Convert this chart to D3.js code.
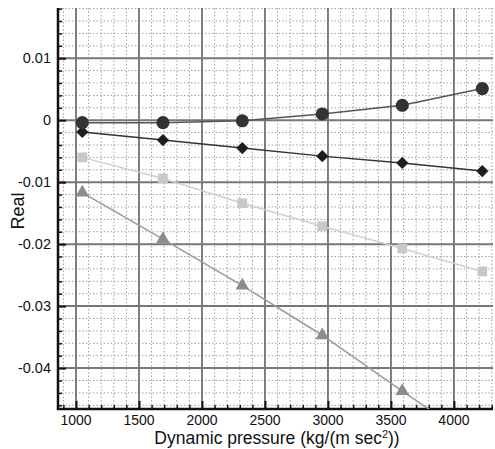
<!DOCTYPE html>
<html><head><meta charset="utf-8">
<script src="https://cdn.jsdelivr.net/npm/d3@7"></script>
<style>body{margin:0;background:#fff}svg{display:block}text{font-family:"Liberation Sans",Arial,sans-serif;fill:#111}</style>
</head><body><svg id="c" width="495" height="449"></svg>
<script>
const pressure = [1050, 1690, 2320, 2955, 3590, 4225];
const circles  = [-0.0004, -0.0004, -0.0001, 0.0010, 0.0024, 0.0051];
const diamonds = [-0.0019, -0.0032, -0.0045, -0.0058, -0.0069, -0.0082];
const squares  = [-0.0060, -0.0094, -0.0134, -0.0171, -0.0207, -0.0244];
const triangles= [-0.0117, -0.0192, -0.0267, -0.0347, -0.0437, -0.0525];
const xTicks = [1000, 1500, 2000, 2500, 3000, 3500, 4000];
const yTicks = [0.01, 0, -0.01, -0.02, -0.03, -0.04];

const svg = d3.select("#c");
const L = 58, R = 493, T = 8, B = 409;
const x = d3.scaleLinear().domain([857, 4310]).range([L, R]);
const y = d3.scaleLinear().domain([-0.0466, 0.0181]).range([B, T]);

svg.append("defs").append("clipPath").attr("id","clip").append("rect").attr("x",L).attr("y",T).attr("width",R-L).attr("height",B-T);

const g = svg.append("g");
const xMinor = d3.range(900, 4301, 100).filter(v => v % 500 !== 0);
const yMinor = d3.range(-46, 19, 2).map(v => v/1000).filter(v => Math.abs(Math.round(v*1000)) % 10 !== 0);
g.selectAll(".vx").data(xMinor).join("line")
  .attr("x1", d=>x(d)).attr("x2", d=>x(d)).attr("y1", T).attr("y2", B)
  .attr("stroke", "#a0a0a0").attr("stroke-width", 1).attr("stroke-dasharray", "1.5,2");
g.selectAll(".hy").data(yMinor).join("line")
  .attr("x1", L).attr("x2", R).attr("y1", d=>y(d)).attr("y2", d=>y(d))
  .attr("stroke", "#a0a0a0").attr("stroke-width", 1).attr("stroke-dasharray", "1.5,2");
g.selectAll(".vX").data(xTicks).join("line")
  .attr("x1", d=>x(d)).attr("x2", d=>x(d)).attr("y1", T).attr("y2", B)
  .attr("stroke", "#555").attr("stroke-width", 1.5);
g.selectAll(".hY").data(yTicks).join("line")
  .attr("x1", L).attr("x2", R).attr("y1", d=>y(d)).attr("y2", d=>y(d))
  .attr("stroke", "#777").attr("stroke-width", 2);

const styleAx = (w)=>a=>{a.select(".domain").remove();a.selectAll("line").attr("stroke","#111").attr("stroke-width",w);};
svg.append("g").attr("transform",`translate(0,${B})`).call(d3.axisTop(x).tickValues(xMinor).tickSize(4).tickFormat("")).call(styleAx(1.5));
svg.append("g").attr("transform",`translate(0,${B})`).call(d3.axisTop(x).tickValues(xTicks).tickSize(8).tickFormat("")).call(styleAx(2));
svg.append("g").attr("transform",`translate(${L},0)`).call(d3.axisRight(y).tickValues(yMinor).tickSize(4).tickFormat("")).call(styleAx(1.5));
svg.append("g").attr("transform",`translate(${L},0)`).call(d3.axisRight(y).tickValues(yTicks).tickSize(8).tickFormat("")).call(styleAx(2));
svg.append("line").attr("x1",L).attr("x2",L).attr("y1",T).attr("y2",B+1).attr("stroke","#111").attr("stroke-width",2.5);
svg.append("line").attr("x1",L-1).attr("x2",R).attr("y1",B).attr("y2",B).attr("stroke","#111").attr("stroke-width",2.5);

svg.selectAll(".xl").data(xTicks).join("text")
  .attr("x", d=>x(d)).attr("y", B+16).attr("text-anchor","middle").attr("font-size",14).text(d=>d);
svg.selectAll(".yl").data(yTicks).join("text")
  .attr("x", L-7).attr("y", d=>y(d)+5).attr("text-anchor","end").attr("font-size",14.5).text(d=>String(d));
svg.append("text").attr("transform",`translate(24,211) rotate(-90)`).attr("text-anchor","middle").attr("font-size",18).text("Real");
const xt = svg.append("text").attr("x", 277).attr("y", 444).attr("text-anchor","middle").attr("font-size",17.5);
xt.append("tspan").text("Dynamic pressure (kg/(m sec");
xt.append("tspan").attr("font-size",11).attr("dy",-6).text("2");
xt.append("tspan").attr("dy",6).text("))");

const plot = svg.append("g").attr("clip-path","url(#clip)");
const series = [
  {vals: triangles, line:"#9a9a9a", fill:"#8c8c8c", shape:d3.symbolTriangle, size:80, rot:0},
  {vals: squares, line:"#d0d0d0", fill:"#c8c8c8", shape:d3.symbolSquare, size:95, rot:0},
  {vals: diamonds, line:"#333", fill:"#1e1e1e", shape:d3.symbolSquare, size:75, rot:45},
  {vals: circles, line:"#555", fill:"#333", shape:d3.symbolCircle, size:135, rot:0},
];
series.forEach(s=>{
  const pts = pressure.map((p,i)=>[p, s.vals[i]]);
  plot.append("path").attr("d", d3.line().x(d=>x(d[0])).y(d=>y(d[1]))(pts))
    .attr("fill","none").attr("stroke", s.line).attr("stroke-width",1.5);
  plot.selectAll(null).data(pts).join("path")
    .attr("transform", d=>`translate(${x(d[0])},${y(d[1])}) rotate(${s.rot})`)
    .attr("d", d3.symbol().type(s.shape).size(s.size)).attr("fill", s.fill);
});
</script></body></html>
